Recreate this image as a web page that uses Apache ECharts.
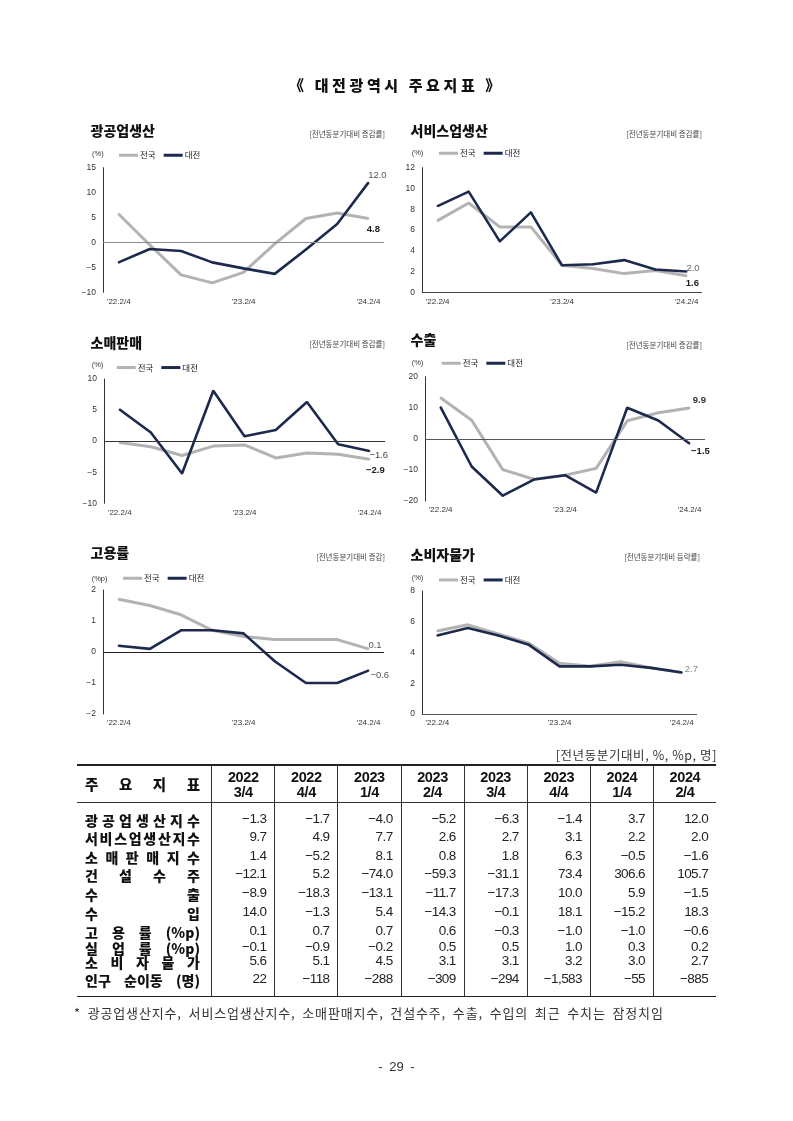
<!DOCTYPE html>
<html><head><meta charset="utf-8">
<script src="https://cdn.jsdelivr.net/npm/echarts@6/dist/echarts.min.js"></script>
<style>
html,body{margin:0;padding:0;background:#fff;}
#page{position:relative;width:793px;height:1121px;background:#fff;overflow:hidden;}
#chart{position:absolute;left:0;top:0;width:793px;height:1121px;}
#overlay{position:absolute;left:0;top:0;width:793px;height:1121px;pointer-events:none;}
.t{position:absolute;white-space:nowrap;}
</style></head>
<body><div id="page"><div id="chart"></div><div id="overlay"></div></div>
<script>
// ---------- data ----------
const categories = ['’22.2/4','’22.3/4','’22.4/4','’23.1/4','’23.2/4','’23.3/4','’23.4/4','’24.1/4','’24.2/4'];

const indNation  = [5.7, -0.5, -6.5, -8.1, -6.0, -0.3, 4.8, 5.9, 4.8];
const indDaejeon = [-4.0, -1.3, -1.7, -4.0, -5.2, -6.3, -1.4, 3.7, 12.0];
const svcNation  = [6.9, 8.6, 6.3, 6.3, 2.6, 2.3, 1.8, 2.1, 1.6];
const svcDaejeon = [8.3, 9.7, 4.9, 7.7, 2.6, 2.7, 3.1, 2.2, 2.0];
const retNation  = [-0.2, -0.9, -2.3, -0.8, -0.6, -2.7, -1.9, -2.1, -2.9];
const retDaejeon = [5.1, 1.4, -5.2, 8.1, 0.8, 1.8, 6.3, -0.5, -1.6];
const expNation  = [13.2, 6.0, -9.9, -13.0, -11.7, -9.5, 5.8, 8.4, 9.9];
const expDaejeon = [10.2, -8.9, -18.3, -13.1, -11.7, -17.3, 10.0, 5.9, -1.5];
const empNation  = [1.7, 1.5, 1.2, 0.7, 0.5, 0.4, 0.4, 0.4, 0.1];
const empDaejeon = [0.2, 0.1, 0.7, 0.7, 0.6, -0.3, -1.0, -1.0, -0.6];
const cpiNation  = [5.4, 5.8, 5.2, 4.6, 3.3, 3.1, 3.4, 3.0, 2.7];
const cpiDaejeon = [5.1, 5.6, 5.1, 4.5, 3.1, 3.1, 3.2, 3.0, 2.7];

const chartTitles = ['광공업생산','서비스업생산','소매판매','수출','고용률','소비자물가'];
const chartSubs = ['[전년동분기대비 증감률]','[전년동분기대비 증감률]','[전년동분기대비 증감률]','[전년동분기대비 증감률]','[전년동분기대비 증감]','[전년동분기대비 등락률]'];
const chartUnits = ['(%)','(%)','(%)','(%)','(%p)','(%)'];
const yMins = [-10, 0, -10, -20, -2, 0];
const yMaxs = [15, 12, 10, 20, 2, 8];
const yIntervals = [5, 2, 5, 10, 1, 2];
const seriesNames = ['전국','대전'];

const tableYears = ['2022','2022','2023','2023','2023','2023','2024','2024'];
const tableQuarters = ['3/4','4/4','1/4','2/4','3/4','4/4','1/4','2/4'];
const rowLabels = ['광공업생산지수','서비스업생산지수','소 매 판 매 지 수','건 설 수 주','수 출','수 입','고 용 률 (%p)','실 업 률 (%p)','소 비 자 물 가','인구 순이동 (명)'];
const rowIndustry = [-1.3, -1.7, -4.0, -5.2, -6.3, -1.4, 3.7, 12.0];
const rowService  = [9.7, 4.9, 7.7, 2.6, 2.7, 3.1, 2.2, 2.0];
const rowRetail   = [1.4, -5.2, 8.1, 0.8, 1.8, 6.3, -0.5, -1.6];
const rowConstr   = [-12.1, 5.2, -74.0, -59.3, -31.1, 73.4, 306.6, 105.7];
const rowExport   = [-8.9, -18.3, -13.1, -11.7, -17.3, 10.0, 5.9, -1.5];
const rowImport   = [14.0, -1.3, 5.4, -14.3, -0.1, 18.1, -15.2, 18.3];
const rowEmploy   = [0.1, 0.7, 0.7, 0.6, -0.3, -1.0, -1.0, -0.6];
const rowUnemp    = [-0.1, -0.9, -0.2, 0.5, 0.5, 1.0, 0.3, 0.2];
const rowCpi      = [5.6, 5.1, 4.5, 3.1, 3.1, 3.2, 3.0, 2.7];
const rowMigr     = [22, -118, -288, -309, -294, -1583, -55, -885];

const pageTitle = '《 대전광역시 주요지표 》';
const tableUnit = '[전년동분기대비, %, %p, 명]';
const footnote = '* 광공업생산지수, 서비스업생산지수, 소매판매지수, 건설수주, 수출, 수입의 최근 수치는 잠정치임';
const pageNo = '- 29 -';

// ---------- layout / style ----------
const nationSeries = [indNation, svcNation, retNation, expNation, empNation, cpiNation];
const daejeonSeries = [indDaejeon, svcDaejeon, retDaejeon, expDaejeon, empDaejeon, cpiDaejeon];
const tableRows = [rowIndustry, rowService, rowRetail, rowConstr, rowExport, rowImport, rowEmploy, rowUnemp, rowCpi, rowMigr];

const ff = "'Liberation Sans','Noto Sans CJK KR',sans-serif";
const kf = "'Noto Sans CJK KR','Liberation Sans',sans-serif";
const GRAY = '#b3b3b3', NAVY = '#1d2a4d';

const layouts = [
 {grid:{left:103,top:167.7,width:281,height:124.6}, title:[90.5,131], sub:[385,134], unit:[92,153.5], legend:[119,157], zero:'#8a8a8a',
  labN:{position:'bottom',offset:[5,0],color:'#222',fontWeight:'bold'}, labD:{position:'top',offset:[9,3],color:'#555'}},
 {grid:{left:422,top:167.7,width:280,height:124.6}, title:[410.5,131], sub:[702,134], unit:[411.7,153.3], legend:[439,155], zero:'#444',
  labN:{position:'bottom',offset:[6,-3],color:'#222',fontWeight:'bold'}, labD:{position:'right',distance:0,offset:[-1,-3],color:'#666'}},
 {grid:{left:104,top:379,width:281,height:124.3}, title:[90.5,342.7], sub:[385,344], unit:[91.7,365], legend:[116.7,369.3], zero:'#333',
  labN:{position:'bottom',offset:[6,0],color:'#222',fontWeight:'bold'}, labD:{position:'right',distance:0,offset:[-1,4],color:'#444'}},
 {grid:{left:425,top:376.7,width:280,height:124.3}, title:[410.5,339.3], sub:[702,345], unit:[411.7,363.3], legend:[441.7,365], zero:'#555',
  labN:{position:'top',offset:[10,3],color:'#333',fontWeight:'bold'}, labD:{position:'bottom',offset:[11,-3],color:'#222',fontWeight:'bold'}},
 {grid:{left:103,top:590,width:281,height:124}, title:[90.5,552.7], sub:[385,557], unit:[91.7,579], legend:[123,580], zero:'#222',
  labN:{position:'right',distance:0,offset:[-1,-4],color:'#555'}, labD:{position:'right',distance:0,offset:[1,5],color:'#555'}},
 {grid:{left:422,top:591,width:275,height:123}, title:[410.5,555], sub:[700,557], unit:[411.7,577.7], legend:[439,581.7], zero:'#555',
  labN:null, labD:{position:'right',distance:0,offset:[2,-3],color:'#888'}}
];

function fmt1(v){ return (v < 0 ? '−' : '') + Math.abs(v).toFixed(1); }
function fmtInt(v){ return (v < 0 ? '−' : '') + Math.abs(v).toLocaleString('en-US'); }
function withLastLabel(arr, spec){
  return arr.map((v,i) => (spec && i === arr.length-1)
    ? {value:v, label:Object.assign({show:true, fontSize:9.5, fontFamily:ff, formatter:p => fmt1(p.value)}, spec)}
    : v);
}

const grids=[], xAxes=[], yAxes=[], series=[], legends=[], graphics=[];
layouts.forEach((L,i) => {
  grids.push(L.grid);
  xAxes.push({type:'category', gridIndex:i, data:categories, boundaryGap:true,
    axisLine:{show:false}, axisTick:{show:false},
    axisLabel:{interval:3, fontSize:8, color:'#333', margin:5, fontFamily:ff}});
  yAxes.push({type:'value', gridIndex:i, min:yMins[i], max:yMaxs[i], interval:yIntervals[i],
    axisLine:{show:true, lineStyle:{color:'#333', width:1}}, axisTick:{show:false}, splitLine:{show:false},
    axisLabel:{fontSize:8.5, color:'#333', margin:7, fontFamily:ff, formatter:v => (v<0?'−':'')+Math.abs(v)}});
  series.push({type:'line', name:seriesNames[0], xAxisIndex:i, yAxisIndex:i,
    data:withLastLabel(nationSeries[i], L.labN), symbol:'circle', symbolSize:2, showSymbol:true,
    lineStyle:{color:GRAY, width:3}, itemStyle:{color:GRAY}, z:3, animation:false,
    markLine:{silent:true, symbol:'none', label:{show:false}, lineStyle:{color:L.zero, width:1, type:'solid'}, data:[{yAxis:0}], animation:false}});
  series.push({type:'line', name:seriesNames[1], xAxisIndex:i, yAxisIndex:i,
    data:withLastLabel(daejeonSeries[i], L.labD), symbol:'circle', symbolSize:2, showSymbol:true,
    lineStyle:{color:NAVY, width:2.6}, itemStyle:{color:NAVY}, z:4, animation:false});
  legends.push({data:seriesNames, left:L.legend[0], top:L.legend[1]-6, icon:'rect', itemWidth:19, itemHeight:3,
    itemGap:8, padding:0, selectedMode:false, textStyle:{fontSize:8.5, color:'#222', fontFamily:kf, padding:[0,0,0,-3]}});
  graphics.push({type:'text', x:L.title[0], y:L.title[1], style:{text:chartTitles[i], font:'900 14px '+kf, fill:'#111', align:'left', verticalAlign:'middle'}});
  graphics.push({type:'text', x:L.sub[0], y:L.sub[1], style:{text:chartSubs[i], font:'7.5px '+kf, fill:'#444', align:'right', verticalAlign:'middle'}});
  graphics.push({type:'text', x:L.unit[0], y:L.unit[1], style:{text:chartUnits[i], font:'7.5px '+ff, fill:'#333', align:'left', verticalAlign:'middle'}});
});

const chart = echarts.init(document.getElementById('chart'), null, {renderer:'canvas'});
chart.setOption({
  animation:false,
  backgroundColor:'#fff',
  textStyle:{fontFamily:ff},
  grid:grids, xAxis:xAxes, yAxis:yAxes, series:series, legend:legends, graphic:graphics
});

// ---------- HTML texts and table ----------
const ov = document.getElementById('overlay');
function addDiv(html, css){ const d=document.createElement('div'); d.className='t'; d.innerHTML=html; d.style.cssText += css; ov.appendChild(d); return d; }

addDiv(pageTitle, `left:0;width:793px;top:74px;height:22px;line-height:22px;text-align:center;font:900 15px ${kf};letter-spacing:3.6px;color:#111;`);
addDiv(tableUnit, `right:${793-717}px;top:745px;height:16px;line-height:16px;font:12.5px ${kf};letter-spacing:0.6px;color:#333;`);

const tLeft=76.7, labRight=211.7, colW=63.1, tTop=765, hBot=801.7, tBot=996.7, tRight=labRight+8*colW;
// lines
addDiv('', `left:${tLeft}px;top:${tTop-1}px;width:${tRight-tLeft}px;height:2px;background:#222;`);
addDiv('', `left:${tLeft}px;top:${hBot}px;width:${tRight-tLeft}px;height:1px;background:#333;`);
addDiv('', `left:${tLeft}px;top:${tBot-1}px;width:${tRight-tLeft}px;height:1.5px;background:#222;`);
for(let c=0;c<8;c++){
  addDiv('', `left:${labRight+c*colW-0.5}px;top:${tTop}px;width:1px;height:${tBot-tTop}px;background:#333;`);
}
// header
function spreadLabel(txt, y, h, font){
  const tokens = txt.indexOf(' ')>=0 ? txt.split(' ') : txt.split('');
  const d = addDiv(tokens.map(t=>`<span>${t}</span>`).join(''),
    `left:85px;width:115px;top:${y-h/2}px;height:${h}px;display:flex;justify-content:space-between;align-items:center;font:${font};color:#111;`);
  return d;
}
spreadLabel('주 요 지 표', 783.3, 20, `900 14.5px ${kf}`);
tableYears.forEach((yv,c)=>{
  const x = labRight + c*colW;
  addDiv(yv, `left:${x}px;width:${colW}px;top:768.5px;height:17px;line-height:17px;text-align:center;font:bold 14.5px ${ff};letter-spacing:-0.4px;color:#111;`);
  addDiv(tableQuarters[c], `left:${x}px;width:${colW}px;top:783.5px;height:17px;line-height:17px;text-align:center;font:bold 14.5px ${ff};letter-spacing:-0.4px;color:#111;`);
});
const rowY = [820, 838.3, 856.7, 875, 894.3, 913, 931.5, 948, 961.7, 980];
rowLabels.forEach((lab,r)=>{
  spreadLabel(lab, rowY[r], 18, `900 14px ${kf}`);
  tableRows[r].forEach((v,c)=>{
    const x = labRight + c*colW;
    const txt = r===tableRows.length-1 ? fmtInt(v) : fmt1(v);
    addDiv(txt, `left:${x}px;width:${colW-8.4}px;top:${rowY[r]-9}px;height:18px;line-height:18px;text-align:right;font:13.5px ${ff};letter-spacing:-0.6px;color:#222;`);
  });
});
addDiv(footnote, `left:74px;top:1003px;height:16px;line-height:16px;font:13px ${kf};letter-spacing:0.85px;word-spacing:3px;color:#333;`);
addDiv(pageNo, `left:0;width:793px;top:1059px;height:16px;line-height:16px;text-align:center;font:13px ${ff};color:#333;word-spacing:3px;`);
</script></body></html>
